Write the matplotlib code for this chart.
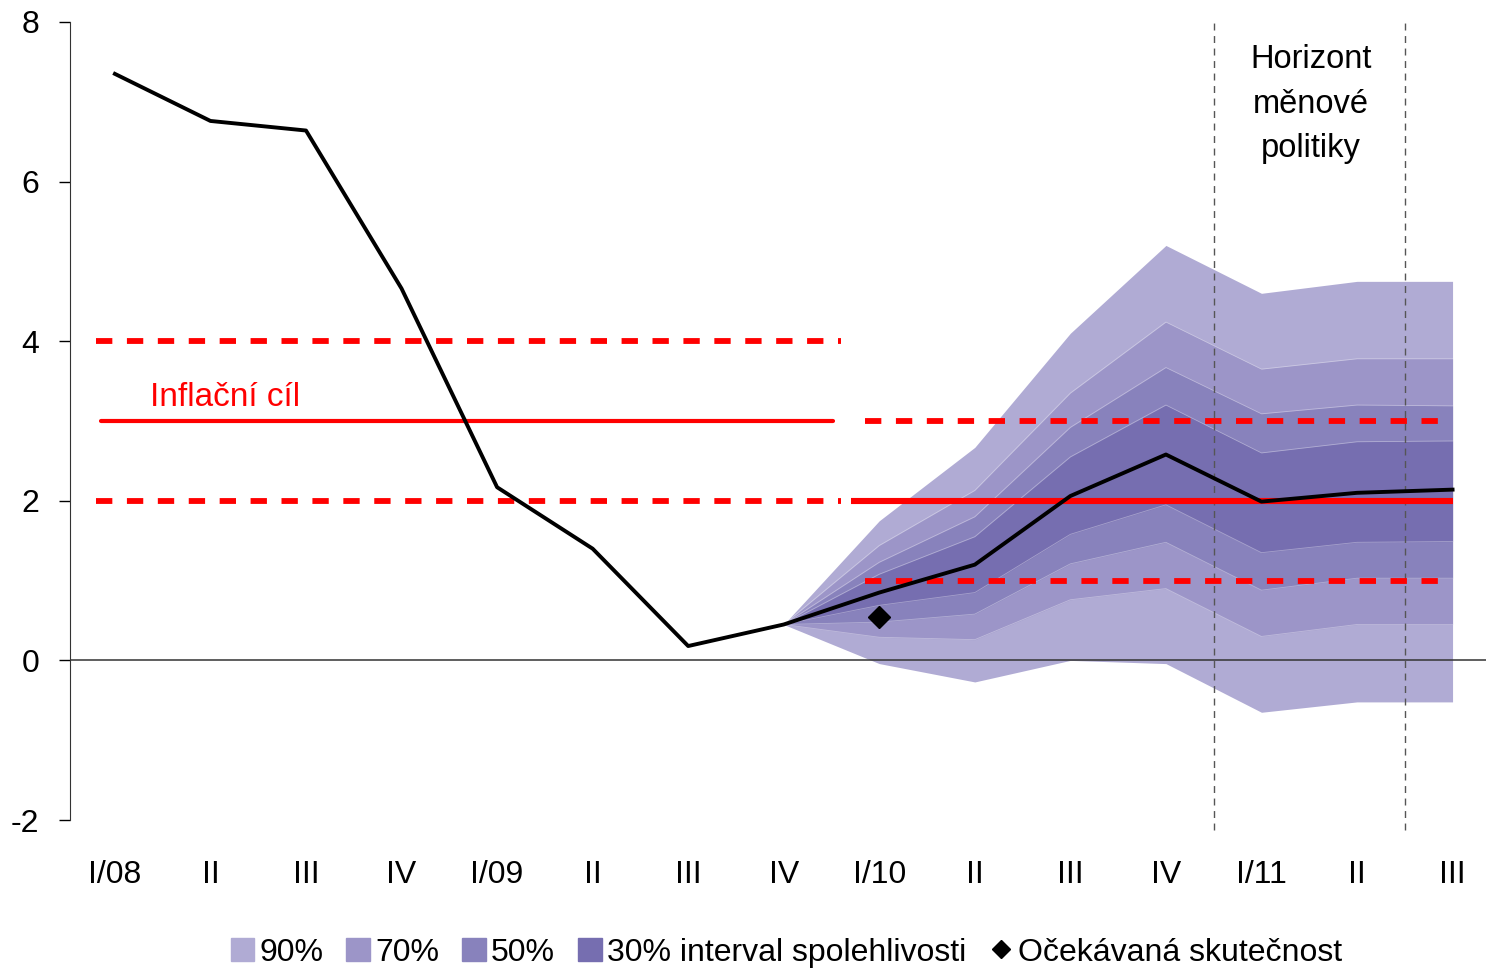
import matplotlib
matplotlib.use("Agg")
import matplotlib.pyplot as plt
from matplotlib.patches import Patch
from matplotlib.lines import Line2D

plt.rcParams['font.family'] = ['Liberation Sans', 'DejaVu Sans']
plt.rcParams['axes.unicode_minus'] = False

# data
quarters = ["I/08", "II", "III", "IV", "I/09", "II", "III", "IV",
            "I/10", "II", "III", "IV", "I/11", "II", "III"]
inflation = [7.35, 6.76, 6.64, 4.66, 2.17, 1.40, 0.18, 0.45,
             0.85, 1.20, 2.06, 2.58, 1.99, 2.10, 2.14]

# fan bands from IV/09 (index 7) onwards
fan_start = 7
upper90 = [0.45, 1.75, 2.67, 4.10, 5.20, 4.60, 4.75, 4.75]
upper70 = [0.45, 1.44, 2.13, 3.35, 4.24, 3.65, 3.78, 3.78]
upper50 = [0.45, 1.23, 1.80, 2.92, 3.67, 3.09, 3.20, 3.19]
upper30 = [0.45, 1.08, 1.55, 2.55, 3.20, 2.60, 2.74, 2.75]
lower30 = [0.45, 0.69, 0.85, 1.58, 1.95, 1.35, 1.48, 1.49]
lower50 = [0.45, 0.48, 0.58, 1.21, 1.48, 0.88, 1.03, 1.03]
lower70 = [0.45, 0.29, 0.26, 0.76, 0.90, 0.30, 0.45, 0.45]
lower90 = [0.45, -0.04, -0.27, 0.00, -0.04, -0.65, -0.52, -0.52]

expected_x = 8
expected_value = 0.55

# inflation targets: old 3 % +-1 pp, new 2 % +-1 pp
old_target = 3.0
new_target = 2.0
band = 1.0
old_span = (-0.2, 7.6)
new_span = (7.7, 14.0)
horizon = [11.5, 13.5]

colors = {"90": "#b0abd4", "70": "#9c95c8", "50": "#8882bc", "30": "#766eb0"}
red = "#ff0000"

fig = plt.figure(figsize=(14.86, 9.68), dpi=100)
ax = fig.add_axes([70 / 1486, 1 - 820 / 968, 1 - 70 / 1486, (820 - 22) / 968])

fx = list(range(fan_start, fan_start + len(upper90)))
ax.fill_between(fx, lower90, upper90, color=colors["90"], lw=0, zorder=1)
ax.fill_between(fx, lower70, upper70, color=colors["70"], lw=0, zorder=1)
ax.fill_between(fx, lower50, upper50, color=colors["50"], lw=0, zorder=1)
ax.fill_between(fx, lower30, upper30, color=colors["30"], lw=0, zorder=1)
for edge in [upper70, upper50, upper30, lower30, lower50, lower70]:
    ax.plot(fx, edge, color="white", lw=0.6, alpha=0.35, zorder=1.5)

ax.axhline(0, color="#333333", lw=1.1, zorder=2)

for hx in horizon:
    ax.plot([hx, hx], [-2.13, 8], color="#555555", lw=1.0, ls=(0, (5, 4)),
            clip_on=False, zorder=2)

dash = dict(color=red, lw=4.2, ls=(0, (2.8, 2.5)), dash_capstyle="butt", zorder=3)
ax.plot(old_span, [old_target + band] * 2, **dash)
ax.plot(old_span, [old_target - band] * 2, **dash)
ax.plot([old_span[0] + 0.05, old_span[1] - 0.08], [old_target] * 2,
        color=red, lw=3.0, solid_capstyle="round", zorder=3)
ax.plot([new_span[0] + 0.15, new_span[1] - 0.05], [new_target + band] * 2, **dash)
ax.plot([new_span[0] + 0.15, new_span[1] - 0.05], [new_target - band] * 2, **dash)
ax.plot(new_span, [new_target] * 2, color=red, lw=4.4, solid_capstyle="butt", zorder=3)

ax.plot(range(len(inflation)), inflation, color="black", lw=2.8, zorder=4)
ax.plot([expected_x], [expected_value], marker="D", color="black",
        markersize=11, ls="none", zorder=5)

ax.text(0.37, 3.3, "Inflační cíl", color=red, fontsize=24, va="center", ha="left")
ax.text(12.52, 6.97, "Horizont\nměnové\npolitiky", fontsize=23.5, ha="center",
        va="center", linespacing=1.55)

ax.set_xlim(-0.47, 14.35)
ax.set_ylim(-2, 8)
ax.set_yticks([-2, 0, 2, 4, 6, 8])
ax.set_xticks(range(len(quarters)))
ax.set_xticklabels(quarters)
ax.tick_params(axis="y", labelsize=23, length=8, width=1, direction="out", pad=14)
ax.tick_params(axis="x", labelsize=23, length=0, pad=29)
for s in ["top", "right", "bottom"]:
    ax.spines[s].set_visible(False)
ax.spines["left"].set_color("#333333")

handles = [
    Patch(color=colors["90"], label="90%"),
    Patch(color=colors["70"], label="70%"),
    Patch(color=colors["50"], label="50%"),
    Patch(color=colors["30"], label="30% interval spolehlivosti"),
    Line2D([], [], marker="D", color="black", ls="none", markersize=9,
           label="Očekávaná skutečnost"),
]
fig.legend(handles=handles, loc="center", bbox_to_anchor=(0.529, 0.016), ncol=5,
           frameon=False, fontsize=23, handlelength=0.75, handleheight=0.75,
           handletextpad=0.15, columnspacing=0.72, borderpad=0)

fig.savefig("out.png", dpi=100)
